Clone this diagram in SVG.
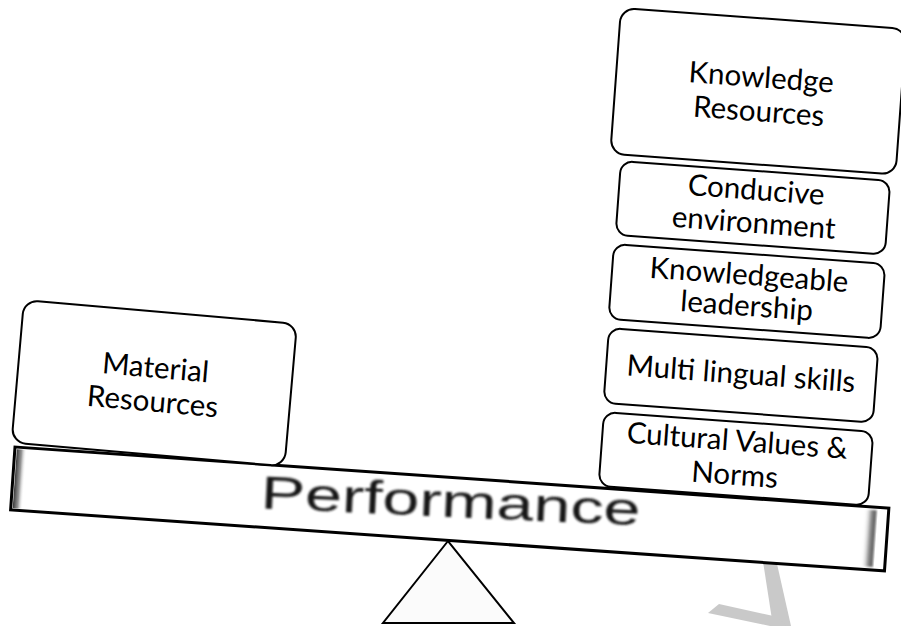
<svg xmlns="http://www.w3.org/2000/svg" width="901" height="626" viewBox="0 0 901 626">
  <defs>
    <style>
      .box { fill: #ffffff; stroke: #000000; stroke-width: 2; }
      .lbl { font-family: Lato, "Open Sans", "Liberation Sans", sans-serif; font-size: 29.5px; fill: #000000; text-anchor: middle; }
      .wm { fill: #c9c9c9; stroke: none; }
    </style>
    <linearGradient id="endL" x1="0" y1="0" x2="1" y2="0">
      <stop offset="0" stop-color="#3a3a3a"/>
      <stop offset="0.5" stop-color="#9a9a9a"/>
      <stop offset="1" stop-color="#ffffff" stop-opacity="0"/>
    </linearGradient>
    <linearGradient id="endR" x1="0" y1="0" x2="1" y2="0">
      <stop offset="0" stop-color="#ffffff" stop-opacity="0"/>
      <stop offset="0.6" stop-color="#8a8a8a"/>
      <stop offset="1" stop-color="#555555"/>
    </linearGradient>
    <filter id="soft" x="-5%" y="-20%" width="110%" height="140%">
      <feGaussianBlur stdDeviation="1.1"/>
    </filter>
    <filter id="softText" x="-5%" y="-20%" width="110%" height="140%">
      <feGaussianBlur stdDeviation="0.8"/>
    </filter>
  </defs>

  <rect x="0" y="0" width="901" height="626" fill="#ffffff"/>

  <g id="watermark">
    <polygon class="wm" points="762,555 775,555 791,626 773,626"/>
    <polygon class="wm" points="708,613 719,604 778,617 786,626 770,626"/>
  </g>

  <g id="fulcrum">
    <polygon points="448,541 383,623 514,623" fill="#fbfbfb" stroke="#000" stroke-width="2" stroke-linejoin="miter"/>
  </g>

  <g id="beam" transform="translate(15,447) rotate(4)">
    <rect x="0" y="0" width="876" height="63" fill="#ffffff" stroke="none"/>
    <rect x="2" y="2" width="10" height="59" fill="url(#endL)"/>
    <rect x="852" y="3" width="12" height="57" fill="url(#endR)" filter="url(#soft)"/>
    <rect x="0" y="0" width="876" height="63" fill="none" stroke="#000" stroke-width="3"/>
  </g>

  <g id="performance">
    <text x="450" y="517" transform="rotate(2.6 450 517)" font-family="'Liberation Sans', Arial, sans-serif" font-size="46" fill="#151515" text-anchor="middle" textLength="380" lengthAdjust="spacingAndGlyphs" filter="url(#softText)">Performance</text>
  </g>

  <g id="material" transform="translate(24,300) rotate(5)">
    <rect class="box" x="0" y="0" width="274" height="143" rx="14"/>
    <text class="lbl" x="137" y="66">Material</text>
    <text class="lbl" x="137" y="100">Resources</text>
  </g>

  <g id="knowledge-resources" transform="translate(621,8) rotate(4.2)">
    <rect class="box" x="0" y="0" width="286" height="146" rx="14"/>
    <text class="lbl" x="145" y="69">Knowledge</text>
    <text class="lbl" x="145" y="103">Resources</text>
  </g>

  <g id="conducive" transform="translate(621,161) rotate(4.2)">
    <rect class="box" x="0" y="0" width="270" height="74" rx="12"/>
    <text class="lbl" x="137" y="29">Conducive</text>
    <text class="lbl" x="137" y="62">environment</text>
  </g>

  <g id="leadership" transform="translate(614,244) rotate(4.2)">
    <rect class="box" x="0" y="0" width="272" height="75" rx="12"/>
    <text class="lbl" x="137" y="31">Knowledgeable</text>
    <text class="lbl" x="137" y="62">leadership</text>
  </g>

  <g id="multilingual" transform="translate(609,328) rotate(4.2)">
    <rect class="box" x="0" y="0" width="270" height="75" rx="12"/>
    <text class="lbl" x="135" y="46">Multi lingual skills</text>
  </g>

  <g id="cultural" transform="translate(604,412) rotate(4.2)">
    <rect class="box" x="0" y="0" width="270" height="74" rx="12"/>
    <text class="lbl" x="135" y="29">Cultural Values &amp;</text>
    <text class="lbl" x="135" y="63">Norms</text>
  </g>

  <g id="connectors"/>
</svg>
